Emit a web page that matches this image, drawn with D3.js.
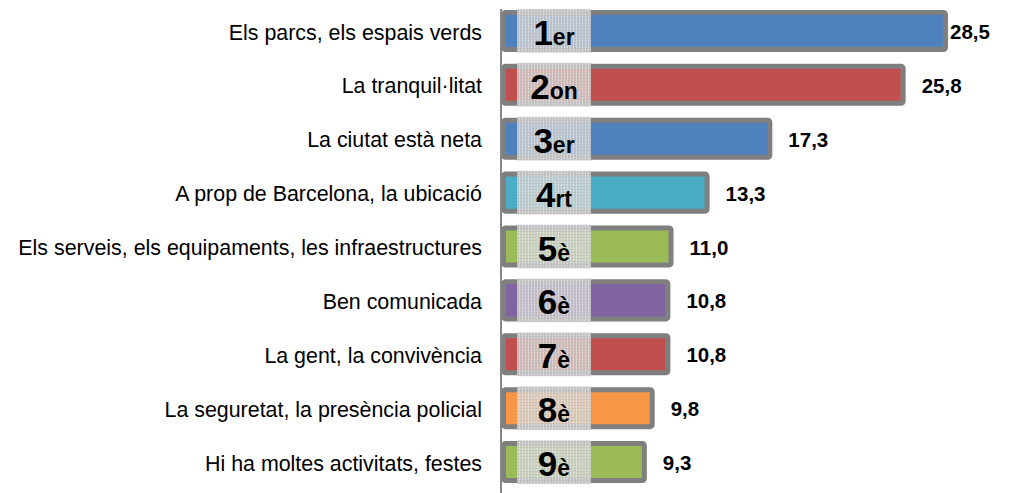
<!DOCTYPE html>
<html lang="ca">
<head>
    <meta charset="utf-8">
    <title>Ranking</title>
    <style>
        body {
            margin: 0;
            background: #fff;
            font-family: "Liberation Sans", Arial, sans-serif;
        }
    </style>
</head>
<body>
<svg width="1010" height="493"></svg>

<script src="https://d3js.org/d3.v7.min.js"></script>
<script>

    // data
    const categories = [
        "Els parcs, els espais verds",
        "La tranquil·litat",
        "La ciutat està neta",
        "A prop de Barcelona, la ubicació",
        "Els serveis, els equipaments, les infraestructures",
        "Ben comunicada",
        "La gent, la convivència",
        "La seguretat, la presència policial",
        "Hi ha moltes activitats, festes"
    ];
    const values = [28.5, 25.8, 17.3, 13.3, 11.0, 10.8, 10.8, 9.8, 9.3];
    const ranks = ["1", "2", "3", "4", "5", "6", "7", "8", "9"];
    const suffixes = ["er", "on", "er", "rt", "è", "è", "è", "è", "è"];
    const colors = ["#4f81bd", "#c0504d", "#4f81bd", "#4bacc6", "#9bbb59",
                    "#8064a2", "#c0504d", "#f79646", "#9bbb59"];

    const svg = d3.select("svg");
    const x0 = 501;

    const x = d3.scaleLinear()
        .domain([0, 28.5])
        .range([x0, 948]);

    const y = d3.scaleBand()
        .domain(categories)
        .range([4, 489])
        .paddingInner(0.22)
        .paddingOuter(0.11);

    // checkered pattern for rank boxes
    const defs = svg.append("defs");
    const pat = defs.append("pattern")
        .attr("id", "grid")
        .attr("width", 3)
        .attr("height", 3)
        .attr("patternUnits", "userSpaceOnUse");
    pat.append("rect").attr("width", 3).attr("height", 3).attr("fill", "#d6d6d6").attr("opacity", 0.78);
    pat.append("rect").attr("width", 1).attr("height", 3).attr("fill", "#f0f0f0").attr("opacity", 0.5);
    pat.append("rect").attr("width", 3).attr("height", 1).attr("fill", "#b8b8b8").attr("opacity", 0.45);

    const sw = 5;
    const rows = svg.append("g").selectAll("g")
        .data(categories)
        .join("g");

    // bars
    rows.append("rect")
        .attr("x", x0 + sw / 2)
        .attr("y", d => y(d) + sw / 2)
        .attr("width", (d, i) => x(values[i]) - x0 - sw)
        .attr("height", y.bandwidth() - sw)
        .attr("rx", 2)
        .attr("fill", (d, i) => colors[i])
        .attr("stroke", "#7f7f7f")
        .attr("stroke-width", sw);

    // rank boxes
    rows.append("rect")
        .attr("x", 517)
        .attr("y", d => y(d) - 1)
        .attr("width", 74)
        .attr("height", y.bandwidth() + 2)
        .attr("fill", "url(#grid)");

    const rankText = rows.append("text")
        .attr("x", 554)
        .attr("y", d => y(d) + y.bandwidth() / 2 + 14)
        .attr("text-anchor", "middle")
        .attr("font-weight", "bold")
        .attr("fill", "#000");
    rankText.append("tspan")
        .attr("font-size", 35)
        .text((d, i) => ranks[i]);
    rankText.append("tspan")
        .attr("font-size", 23)
        .text((d, i) => suffixes[i]);

    // value labels
    rows.append("text")
        .attr("x", (d, i) => Math.min(x(values[i]) + 16, 950))
        .attr("y", d => y(d) + y.bandwidth() / 2 + 8)
        .attr("font-size", 20.5)
        .attr("font-weight", "bold")
        .text((d, i) => d3.format(".1f")(values[i]).replace(".", ","));

    // category axis
    const axis = svg.append("g")
        .attr("transform", `translate(${x0},0)`)
        .call(d3.axisLeft(y).tickSize(0).tickPadding(19));
    axis.select(".domain")
        .attr("stroke", "#868686")
        .attr("stroke-width", 2)
        .attr("d", "M0,9V493");
    axis.selectAll(".tick text")
        .attr("dy", "0.4em")
        .attr("font-family", "Liberation Sans, Arial, sans-serif")
        .attr("font-size", 21.4)
        .attr("fill", "#000");

</script>
</body>
</html>
